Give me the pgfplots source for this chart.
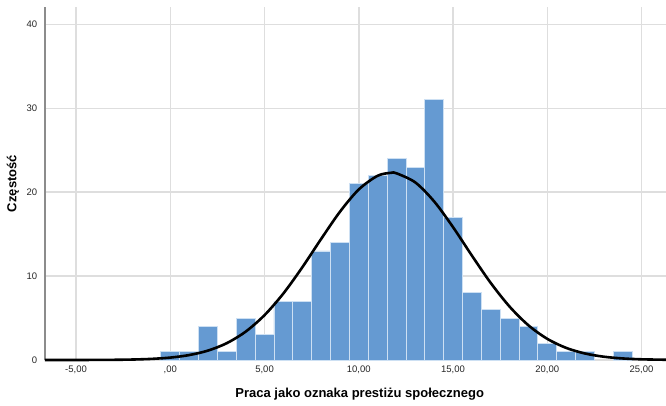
\documentclass[border=0pt]{standalone}
\usepackage{pgfplots}
\pgfplotsset{compat=1.18}
\usepackage{fontspec}
\setmainfont{Liberation Sans}
\definecolor{barblue}{RGB}{101,154,210}
\definecolor{baredge}{RGB}{205,224,243}
\definecolor{gridgray}{RGB}{222,222,222}
\begin{document}
\begin{tikzpicture}
\useasboundingbox (-44.7pt,-45pt) rectangle (621.3pt,360pt);
\begin{axis}[
  scale only axis,
  width=621.3pt, height=353pt,
  xmin=-6.663, xmax=26.297,
  ymin=0, ymax=42.07,
  axis line style={draw=none},
  xtick={-5,0,5,10,15,20,25},
  xticklabels={{-5,00},{,00},{5,00},{10,00},{15,00},{20,00},{25,00}},
  ytick={0,10,20,30,40},
  major tick length=0pt,
  grid=major,
  major grid style={draw=gridgray, line width=1.5pt},
  tick label style={font=\fontsize{9.5}{11}\selectfont, text=black!85},
  /pgf/number format/assume math mode=true,
  xticklabel style={yshift=-2pt},
  yticklabel style={xshift=-4pt},
  clip=false,
  every axis y label/.style={at={(axis description cs:-0.051,0.5)}, rotate=90, anchor=center},
  every axis x label/.style={at={(axis description cs:0.507,-0.0963)}, anchor=center},
  label style={font=\fontsize{13}{15}\selectfont\bfseries},
  ylabel={Częstość},
  xlabel={Praca jako oznaka prestiżu społecznego},
]
\addplot[ybar, bar width=1, bar shift=0pt, fill=barblue, draw=baredge, line width=0.8pt]
coordinates {
(0,1) (1,1) (2,4) (3,1) (4,5) (5,3) (6,7) (7,7) (8,13) (9,14)
(10,21) (11,22) (12,24) (13,23) (14,31) (15,17) (16,8) (17,6)
(18,5) (19,4) (20,2) (21,1) (22,1) (24,1)
};
\draw[black!45, line width=1.6pt] (rel axis cs:0,0) -- (rel axis cs:0,1);
\addplot[black, line width=2.6pt, smooth]
coordinates {
(-6.66,0) (-5,0.003) (-4,0.009) (-3,0.023) (-2,0.057) (-1,0.133)
(0,0.288) (1,0.586) (2,1.121) (3,2.010) (4,3.384) (5,5.348)
(6,7.93) (7,11.04) (8,14.42) (9,17.67) (10,20.33) (11,21.96)
(11.71,22.31) (12,22.25) (13,21.16) (14,18.89) (15,15.83)
(16,12.44) (17,9.18) (18,6.36) (19,4.13) (20,2.52) (21,1.443)
(22,0.776) (23,0.391) (24,0.185) (25,0.082) (26.29,0.03)
};
\end{axis}
\end{tikzpicture}
\end{document}
